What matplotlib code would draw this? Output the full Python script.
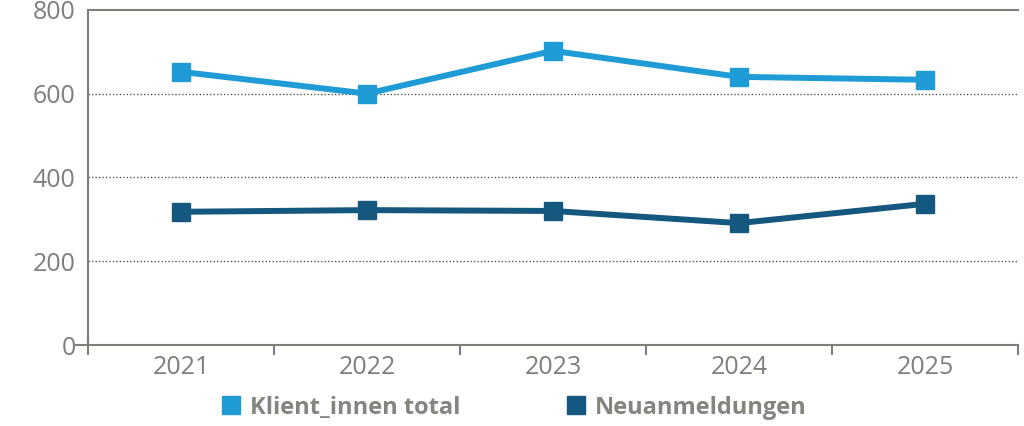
import numpy as np
import matplotlib
matplotlib.use('Agg')
import matplotlib.pyplot as plt
from matplotlib.lines import Line2D

# Data
years = ['2021', '2022', '2023', '2024', '2025']
klient_total = [652, 600, 702, 640, 633]
neuanmeldungen = [318, 322, 320, 291, 337]
series_names = ['Klient_innen total', 'Neuanmeldungen']

light_blue = '#1f9bd5'
dark_blue = '#14577f'
grey = '#7f7e79'

plt.rcParams['font.family'] = ['Open Sans', 'DejaVu Sans']

fig = plt.figure(figsize=(10.24, 4.26), dpi=100)
ax = fig.add_axes([0.086, 0.19, 0.908, 0.787])

x = np.arange(len(years))
ax.plot(x, klient_total, color=light_blue, lw=4.3, marker='s', ms=13, zorder=3)
ax.plot(x, neuanmeldungen, color=dark_blue, lw=4.3, marker='s', ms=13, zorder=3)

ax.set_xlim(-0.5, len(years) - 0.5)
ax.set_ylim(0, 800)
ax.set_yticks([0, 200, 400, 600, 800])
ax.set_xticks(x)
ax.set_xticklabels(years)
ax.set_xticks(np.arange(-0.5, len(years)), minor=True)

for yv in [200, 400, 600]:
    ax.axhline(yv, color='#555550', lw=1.0, ls=(0, (1, 1.5)), zorder=1)

ax.spines['right'].set_visible(False)
for side in ['left', 'bottom', 'top']:
    ax.spines[side].set_color(grey)
    ax.spines[side].set_linewidth(1.5)

ax.tick_params(axis='x', which='major', length=0, pad=7, labelsize=18, labelcolor=grey)
ax.tick_params(axis='x', which='minor', length=7, width=1.5, color=grey, direction='out')
ax.tick_params(axis='y', length=0, pad=9, labelsize=18, labelcolor=grey)

# small tick to the left of zero
ax.plot([-0.565, -0.5], [0, 0], color=grey, lw=1.5, clip_on=False)

handles = [Line2D([], [], color=light_blue, marker='s', ls='none', ms=13),
           Line2D([], [], color=dark_blue, marker='s', ls='none', ms=13)]
leg = fig.legend(handles, series_names, loc='center', bbox_to_anchor=(0.5, 0.043),
                 ncol=2, frameon=False, handletextpad=0.2, columnspacing=4.3,
                 handlelength=1.2, prop={'size': 17, 'weight': 'bold'})
for t in leg.get_texts():
    t.set_color('#85847f')

fig.savefig('out.png', dpi=100)
